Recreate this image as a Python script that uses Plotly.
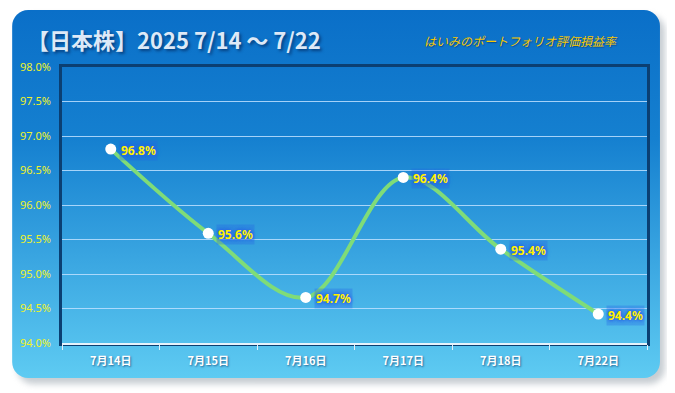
import base64
import plotly.graph_objects as go

categories = ["7月14日", "7月15日", "7月16日", "7月17日", "7月18日", "7月22日"]
values = [96.81, 95.59, 94.66, 96.40, 95.36, 94.42]
labels = ["96.8%", "95.6%", "94.7%", "96.4%", "95.4%", "94.4%"]
title_text = "【日本株】2025 7/14 ～ 7/22"
subtitle_text = "はいみのポートフォリオ評価損益率"

# page body has an 8px margin, so work in shifted coordinates
W, H = 667, 385
ML, MT = 52, 59
PR, PB = 639, 335
MR, MB = W - PR, H - PB
PW, PH = PR - ML, PB - MT

svg = f'''<svg xmlns="http://www.w3.org/2000/svg" width="{W}" height="{H}" viewBox="0 0 {W} {H}">
<defs>
<linearGradient id="g" x1="0" y1="0" x2="0" y2="1">
<stop offset="0" stop-color="#0a6fc8"/>
<stop offset="0.35" stop-color="#1580d0"/>
<stop offset="1" stop-color="#5ecbf2"/>
</linearGradient>
<filter id="s" x="-5%" y="-5%" width="115%" height="115%"><feGaussianBlur stdDeviation="3"/></filter>
</defs>
<rect x="7" y="7" width="650" height="369" rx="16" ry="16" fill="#9aa4ad" opacity="0.55" filter="url(#s)"/>
<rect x="2" y="2" width="650" height="368" rx="16" ry="16" fill="url(#g)"/>
<rect x="{ML-1.5}" y="{MT-1.5}" width="{PW+3}" height="{PH+3}" fill="none" stroke="#0b3f72" stroke-width="3"/>
</svg>'''
src = "data:image/svg+xml;base64," + base64.b64encode(svg.encode("utf-8")).decode()

fig = go.Figure()
fig.add_trace(go.Scatter(
    x=categories, y=values, mode="lines+markers",
    line=dict(color="#7fdc78", width=4, shape="spline", smoothing=1.0),
    marker=dict(color="white", size=11, line=dict(width=0)),
    hoverinfo="skip", cliponaxis=False,
))

for c, v, t in zip(categories, values, labels):
    fig.add_annotation(
        x=c, y=v, text=f"<b>{t}</b>", showarrow=False, xanchor="left", xshift=8, yshift=-1,
        font=dict(family="Noto Sans", size=12, color="#fff200",
                  shadow="0px 0px 3px #2a62e6, 0px 0px 3px #2a62e6, 0px 0px 5px #2a62e6"),
        bgcolor="rgba(40,100,230,0.3)", borderpad=1,
    )

fig.add_annotation(
    xref="paper", yref="paper", x=(15 - ML) / PW, y=1 + (MT - 31) / PH,
    xanchor="left", yanchor="middle", showarrow=False,
    text=f"<b>{title_text}</b>",
    font=dict(family="Noto Sans CJK JP", size=22, color="#dde9f7",
              shadow="2px 2px 3px rgba(0,30,80,0.6)"),
)
fig.add_annotation(
    xref="paper", yref="paper", x=(513 - ML) / PW, y=1 + (MT - 32) / PH,
    xanchor="center", yanchor="middle", showarrow=False,
    text=f"<i>{subtitle_text}</i>",
    font=dict(family="Noto Sans CJK JP", size=12, color="#f7c800",
              shadow="1px 1px 1px rgba(0,40,90,0.5)"),
)

fig.add_layout_image(dict(
    source=src, xref="paper", yref="paper",
    x=-ML / PW, y=1 + MT / PH, sizex=W / PW, sizey=H / PH,
    xanchor="left", yanchor="top", sizing="stretch", layer="below",
))

fig.update_layout(
    width=W, height=H, autosize=False,
    margin=dict(l=ML, r=MR, t=MT, b=MB),
    paper_bgcolor="white", plot_bgcolor="rgba(0,0,0,0)",
    showlegend=False,
    xaxis=dict(
        type="category", tickson="boundaries", ticks="outside", ticklen=5,
        tickcolor="#e0eef8", showline=True, linecolor="#e6f2fb", linewidth=2,
        showgrid=False, zeroline=False, ticklabelstandoff=7,
        tickfont=dict(family="Noto Sans CJK JP", size=11, color="white", weight="bold",
                      shadow="1px 1px 2px rgba(0,40,90,0.6)"),
        range=[-0.5, 5.5], fixedrange=True,
    ),
    yaxis=dict(
        range=[94, 98], dtick=0.5, tickformat=".1f", ticksuffix="%",
        showgrid=True, gridcolor="rgba(190,225,255,0.85)", gridwidth=1,
        zeroline=False, showline=False, ticks="", ticklabelstandoff=10,
        tickfont=dict(family="Noto Sans", size=11, color="#eef22a"),
        fixedrange=True,
    ),
)

fig.write_html("out.html")
